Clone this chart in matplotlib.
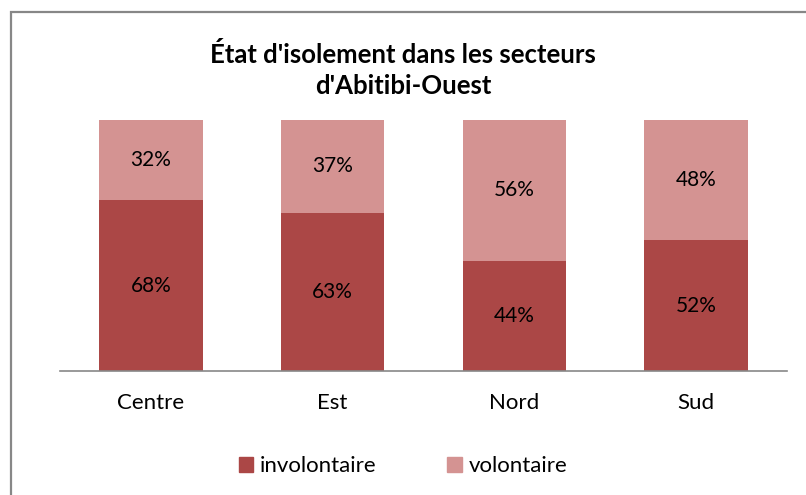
import matplotlib.pyplot as plt
from matplotlib.patches import Rectangle, Patch

plt.rcParams['font.family'] = ['Lato', 'DejaVu Sans']

secteurs = ["Centre", "Est", "Nord", "Sud"]
involontaire = [68, 63, 44, 52]
volontaire = [32, 37, 56, 48]

c_inv = "#AB4746"
c_vol = "#D49392"

fig = plt.figure(figsize=(8.06, 4.95), dpi=100)
fig.patches.append(Rectangle((10.5 / 806, -0.05), 1.1, 1 - 11.5 / 495 + 0.05,
                             transform=fig.transFigure, fill=False,
                             edgecolor="#878787", linewidth=1.6))

ax = fig.add_axes([60 / 806, 124 / 495, 727 / 806, 251 / 495])
x = range(len(secteurs))
ax.bar(x, involontaire, width=0.57, color=c_inv, label="involontaire")
ax.bar(x, volontaire, width=0.57, bottom=involontaire, color=c_vol, label="volontaire")

for i in x:
    ax.text(i, involontaire[i] / 2, f"{involontaire[i]}%", ha="center", va="center",
            fontsize=15, color="black")
    ax.text(i, involontaire[i] + volontaire[i] / 2, f"{volontaire[i]}%", ha="center",
            va="center", fontsize=15, color="black")

ax.set_xlim(-0.5, 3.5)
ax.set_ylim(0, 100)
ax.set_xticks(list(x))
ax.set_xticklabels(secteurs, fontsize=16)
ax.tick_params(axis="x", length=0, pad=16)
ax.set_yticks([])
for s in ["top", "right", "left"]:
    ax.spines[s].set_visible(False)
ax.spines["bottom"].set_color("#888888")
ax.spines["bottom"].set_linewidth(1.2)

fig.text(0.5, 1 - 70 / 495, "État d'isolement dans les secteurs\nd'Abitibi-Ouest",
         ha="center", va="center", fontsize=18.5, fontweight="bold", linespacing=1.38)

handles = [Patch(color=c_inv), Patch(color=c_vol)]
fig.legend(handles, ["involontaire", "volontaire"], loc="center",
           bbox_to_anchor=(0.5, 1 - 466 / 495), ncol=2, frameon=False,
           fontsize=16, handlelength=0.65, handleheight=0.65, columnspacing=3.2,
           handletextpad=0.3)

fig.savefig("out.png", dpi=100)
